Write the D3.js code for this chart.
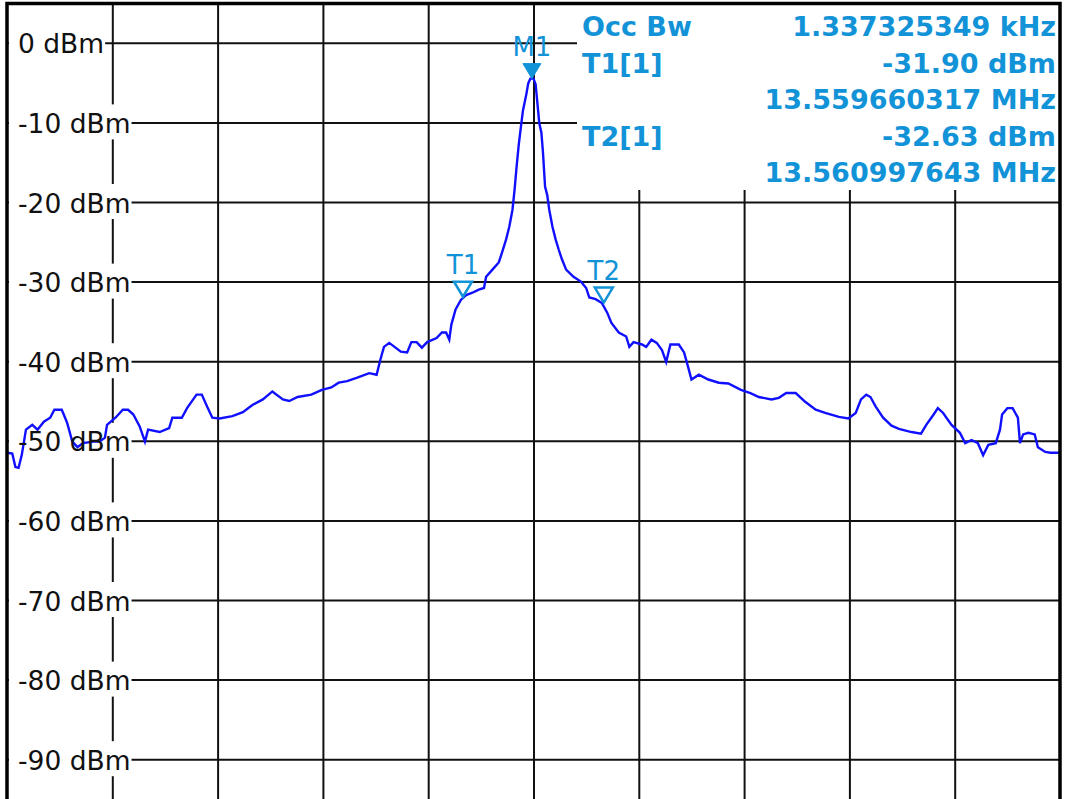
<!DOCTYPE html>
<html>
<head>
<meta charset="utf-8">
<script src="https://cdn.jsdelivr.net/npm/d3@7"></script>
<style>
  body { margin: 0; background: #fff; }
  svg { display: block; font-family: Verdana, "DejaVu Sans", sans-serif; }
</style>
</head>
<body>
<svg id="chart" width="1067" height="799"></svg>
<script>
// trace: frequency offset from centre (kHz) and level (dBm)
const freqOffsetKHz = [
  -5.00,-4.95,-4.92,-4.89,-4.86,-4.82,-4.76,-4.71,-4.65,-4.59,-4.55,-4.48,-4.43,-4.38,-4.33,-4.28,-4.18,-4.12,-4.07,-4.05,
  -3.97,-3.90,-3.85,-3.80,-3.74,-3.69,-3.66,-3.55,-3.46,-3.43,-3.34,-3.29,-3.20,-3.15,-3.10,-3.05,-2.98,-2.86,-2.76,-2.67,
  -2.57,-2.48,-2.38,-2.32,-2.24,-2.11,-2.01,-1.92,-1.85,-1.77,-1.68,-1.56,-1.49,-1.45,-1.42,-1.37,-1.32,-1.26,-1.20,-1.16,
  -1.11,-1.06,-1.01,-0.92,-0.87,-0.83,-0.80,-0.78,-0.74,-0.69,-0.64,-0.58,-0.52,-0.47,-0.45,-0.39,-0.33,-0.30,-0.26,-0.23,
  -0.20,-0.18,-0.16,-0.14,-0.12,-0.10,-0.07,-0.05,-0.03,0.00,
  0.02,0.035,0.055,0.075,0.09,0.11,0.13,0.15,0.18,0.21,0.24,0.27,0.31,0.38,0.45,0.50,0.53,0.59,0.65,0.70,
  0.74,0.81,0.88,0.91,0.95,1.03,1.07,1.12,1.17,1.22,1.26,1.30,1.38,1.43,1.47,1.50,1.57,1.66,1.76,1.85,
  1.97,2.06,2.14,2.26,2.33,2.40,2.49,2.58,2.68,2.77,2.90,2.99,3.06,3.11,3.16,3.20,3.25,3.32,3.40,3.47,
  3.59,3.68,3.73,3.80,3.84,3.89,3.97,4.05,4.10,4.16,4.22,4.27,4.32,4.39,4.43,4.45,4.50,4.55,4.60,4.62,
  4.65,4.70,4.76,4.79,4.86,4.91,5.00
];
const levelDBm = [
  -51.5,-51.6,-53.3,-53.4,-51.8,-48.6,-48.0,-48.6,-47.6,-47.1,-46.1,-46.1,-47.7,-50.1,-50.8,-50.3,-50.1,-50.1,-49.6,-48.0,
  -47.1,-46.1,-46.1,-46.7,-48.2,-50.1,-48.6,-48.9,-48.4,-47.1,-47.1,-45.9,-44.2,-44.2,-45.7,-47.1,-47.2,-46.9,-46.4,-45.5,
  -44.8,-43.8,-44.8,-45.0,-44.5,-44.2,-43.6,-43.3,-42.7,-42.5,-42.1,-41.5,-41.7,-39.6,-38.2,-37.7,-38.2,-38.8,-38.9,-37.6,
  -37.6,-38.3,-37.6,-37.1,-36.4,-36.4,-37.3,-35.4,-33.5,-32.3,-31.7,-31.4,-31.0,-30.8,-29.4,-28.5,-27.6,-26.4,-24.7,-23.1,
  -21.0,-18.5,-15.5,-12.8,-10.6,-8.5,-6.6,-5.1,-4.5,-4.5,
  -5.2,-7.3,-10.1,-11.3,-13.8,-18.1,-19.1,-21.0,-23.1,-24.7,-26.0,-27.2,-28.5,-29.4,-30.0,-30.8,-32.0,-32.2,-32.7,-33.9,
  -35.2,-36.4,-36.9,-38.2,-37.6,-37.9,-38.2,-37.3,-37.7,-38.6,-40.1,-37.9,-37.9,-38.9,-40.8,-42.3,-41.7,-42.3,-42.7,-42.8,
  -43.6,-44.0,-44.5,-44.8,-44.6,-44.0,-44.0,-45.1,-46.1,-46.5,-47.0,-47.2,-46.5,-44.8,-44.2,-44.5,-45.7,-47.1,-48.1,-48.5,
  -48.9,-49.1,-48.0,-46.7,-45.9,-46.5,-48.0,-49.0,-50.3,-49.9,-50.3,-51.8,-50.5,-50.3,-48.6,-46.7,-45.9,-45.9,-47.1,-50.3,
  -49.2,-49.0,-49.2,-50.8,-51.4,-51.5,-51.5
];

const levelTicks = [0, -10, -20, -30, -40, -50, -60, -70, -80, -90];
const freqTicks = [-4, -3, -2, -1, 0, 1, 2, 3, 4];

const centerMHz = 13.56033;
const markerNames = ["M1", "T1", "T2"];
const markerMHz = [13.560315, 13.559660317, 13.560997643];
const markerDBm = [-4.5, -31.90, -32.63];
const markerFilled = [true, false, false];

const infoLabels = ["Occ Bw", "T1[1]", "", "T2[1]", ""];
const infoValues = ["1.337325349 kHz", "-31.90 dBm", "13.559660317 MHz", "-32.63 dBm", "13.560997643 MHz"];

const svg = d3.select("#chart");
const W = 1067, H = 799;
const blue = "#1293d8";

const x = d3.scaleLinear().domain([-5, 5]).range([7, 1060]);
const y = d3.scaleLinear().domain([5, -95]).range([3, 799]);

svg.append("rect").attr("width", W).attr("height", H).attr("fill", "#fff");

// grid from axes
const gx = svg.append("g")
  .attr("transform", "translate(0,3)")
  .call(d3.axisBottom(x).tickValues(freqTicks).tickSize(H).tickFormat(""));
gx.select(".domain").remove();
gx.selectAll("line").attr("stroke", "#111").attr("stroke-width", 2);

const gy = svg.append("g")
  .attr("transform", "translate(7,0)")
  .call(d3.axisRight(y).tickValues(levelTicks).tickSize(1053).tickFormat(""));
gy.select(".domain").remove();
gy.selectAll("line").attr("stroke", "#111").attr("stroke-width", 2);

// white box behind the readout
svg.append("rect")
  .attr("x", 577).attr("y", 3).attr("width", 482).attr("height", 187)
  .attr("fill", "#fff");

// level labels: white box first, text after the trace
const labelBoxes = svg.append("g");
const tickText = levelTicks.map(v => `${v} dBm`);
const labelSize = 26.5;

const tmp = svg.append("text").attr("font-size", labelSize);
const labelW = tickText.map(t => { tmp.text(t); return tmp.node().getComputedTextLength(); });
tmp.remove();

labelBoxes.selectAll("rect")
  .data(levelTicks)
  .join("rect")
  .attr("x", 9)
  .attr("y", d => y(d) - 18)
  .attr("width", (d, i) => labelW[i] + 10)
  .attr("height", 35)
  .attr("fill", "#fff");

// trace
const pts = freqOffsetKHz.map((f, i) => [f, levelDBm[i]]);
const line = d3.line().x(d => x(d[0])).y(d => y(d[1]));
svg.append("path")
  .datum(pts)
  .attr("d", line)
  .attr("fill", "none")
  .attr("stroke", "#1010ff")
  .attr("stroke-width", 2.4)
  .attr("stroke-linejoin", "miter");

svg.append("g")
  .selectAll("text")
  .data(levelTicks)
  .join("text")
  .attr("x", 18)
  .attr("y", d => y(d) + 10.5)
  .attr("font-size", labelSize)
  .attr("fill", "#111")
  .text((d, i) => tickText[i]);

// markers
const mk = svg.append("g");
markerNames.forEach((name, i) => {
  const mx = x((markerMHz[i] - centerMHz) * 1000);
  const my = y(markerDBm[i]);
  mk.append("path")
    .attr("d", `M${mx - 9},${my - 15}L${mx + 9},${my - 15}L${mx},${my}Z`)
    .attr("fill", markerFilled[i] ? blue : "none")
    .attr("stroke", blue)
    .attr("stroke-width", markerFilled[i] ? 1 : 2.5)
    .attr("stroke-linejoin", "miter");
  mk.append("text")
    .attr("x", mx)
    .attr("y", my - 23)
    .attr("text-anchor", "middle")
    .attr("font-size", 26)
    .attr("fill", blue)
    .text(name);
});

// readout
const info = svg.append("g").attr("font-weight", "bold").attr("font-size", 27).attr("fill", blue);
const rowY = [36, 72.5, 109, 145.5, 182];
info.selectAll("text.lab")
  .data(infoLabels)
  .join("text")
  .attr("class", "lab")
  .attr("x", 582)
  .attr("y", (d, i) => rowY[i])
  .text(d => d);
info.selectAll("text.val")
  .data(infoValues)
  .join("text")
  .attr("class", "val")
  .attr("x", 1056)
  .attr("y", (d, i) => rowY[i])
  .attr("text-anchor", "end")
  .text(d => d);

// frame
svg.append("path")
  .attr("d", `M7,${H}V3.5H1060V${H}`)
  .attr("fill", "none")
  .attr("stroke", "#000")
  .attr("stroke-width", 3.5);
</script>
</body>
</html>
